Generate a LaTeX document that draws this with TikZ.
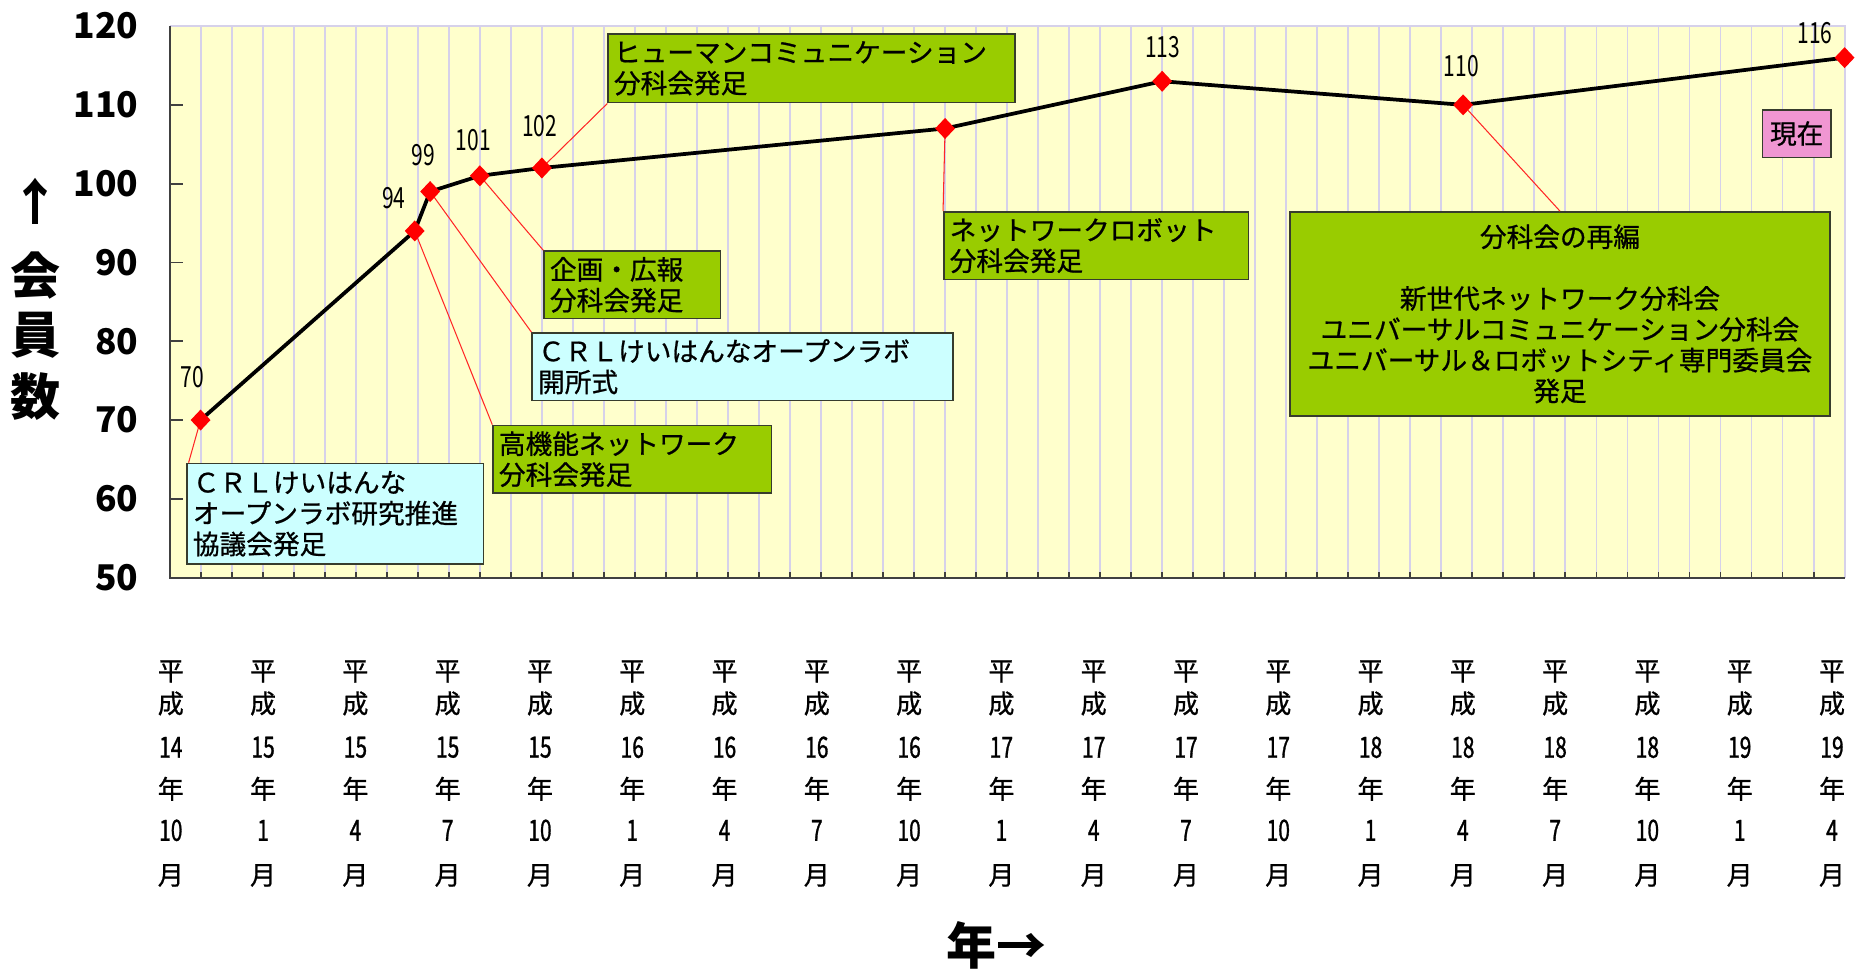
\documentclass[tikz,border=0pt]{standalone}
\usepackage{fontspec}
\setmainfont{Noto Sans CJK JP}
\newfontfamily\numfont[FakeStretch=0.72]{Noto Sans CJK JP}
\newfontfamily\ticknumfont[FakeStretch=0.72,FakeBold=1]{Noto Sans CJK JP}
\newfontfamily\heavyfont[FakeBold=0.8]{Noto Sans CJK JP}
\usetikzlibrary{shapes.geometric}

\definecolor{plotbg}{HTML}{FFFFCC}
\definecolor{gridcol}{RGB}{214,209,234}
\definecolor{leafgreen}{HTML}{99CC00}
\definecolor{paleblue}{HTML}{CCFFFF}
\definecolor{softpink}{RGB}{240,150,210}
\definecolor{boxedge}{RGB}{55,60,45}

\begin{document}
\begin{tikzpicture}[x=0.02cm,y=-0.02cm,
    gridline/.style={draw=gridcol,line width=0.9pt},
    axisline/.style={draw=black!75,line width=0.9pt},
    dataline/.style={draw=black,line width=1.8pt,line join=round},
    marker/.style={diamond,fill=red,inner sep=0pt,minimum width=0.34cm,minimum height=0.36cm},
    leader/.style={draw=red!85,line width=0.5pt},
    evbox/.style={draw=boxedge,line width=0.7pt,anchor=north west,align=left,
        inner xsep=0.1cm,inner ysep=0pt,font=\heavyfont\fontsize{12.8}{14.8}\selectfont},
    greenbox/.style={evbox,fill=leafgreen},
    bluebox/.style={evbox,fill=paleblue},
    vallabel/.style={font=\numfont\fontsize{14}{14}\selectfont,inner sep=0pt},
    ylabel/.style={font=\bfseries\fontsize{17}{17}\selectfont,anchor=east,inner sep=0pt},
    ticktext/.style={font=\heavyfont\fontsize{12.5}{12.5}\selectfont,inner sep=0pt},
    ticknum/.style={font=\ticknumfont\fontsize{14}{14}\selectfont,inner sep=0pt},
    axtitle/.style={font=\bfseries\fontsize{24}{24}\selectfont,inner sep=0pt}]
  \useasboundingbox (0,0) rectangle (1568,818);

  % plot area
  \fill[plotbg] (143,22) rectangle (1555,487);
  \foreach \m in {1,...,53}
    \draw[gridline] ({143+26.148*\m},22) -- ({143+26.148*\m},487);
  \draw[gridline] (143,22) -- (1555,22) -- (1555,487);
  \draw[axisline] (143,22) -- (143,487) -- (1555,487);
  \foreach \m in {1,...,53}
    \draw[axisline] ({143+26.148*\m},487) -- ++(0,-5);
  \foreach \v in {60,70,...,110}
    \draw[axisline] (143,{487-6.643*(\v-50)}) -- ++(11,0);
  \foreach \v in {50,60,...,120}
    \node[ylabel] (y\v) at (117,{487-6.643*(\v-50)}) {\v};

  % data
  \coordinate (p70) at (169.1,354.1);
  \coordinate (p94) at (349.6,194.7);
  \coordinate (p99) at (362.6,161.5);
  \coordinate (p101) at (404.5,148.2);
  \coordinate (p102) at (456.8,141.6);
  \coordinate (p107) at (796.7,108.3);
  \coordinate (p113) at (979.7,68.5);
  \coordinate (p110) at (1233.4,88.4);
  \coordinate (p116) at (1555,48.6);

  % event boxes
  \node[bluebox,text width=4.8cm,minimum height=1.7cm] (crlbox) at (157,390)
    {ＣＲＬけいはんな\\オープンラボ研究推進\\協議会発足};
  \node[greenbox,text width=4.5cm,minimum height=1.14cm] (koukibox) at (415,358)
    {高機能ネットワーク\\分科会発足};
  \node[bluebox,text width=6.9cm,minimum height=1.14cm] (openbox) at (448,280)
    {ＣＲＬけいはんなオープンラボ\\開所式};
  \node[greenbox,text width=2.78cm,minimum height=1.14cm] (kikakubox) at (458,211)
    {企画・広報\\分科会発足};
  \node[greenbox,text width=6.66cm,minimum height=1.16cm] (humanbox) at (512,28)
    {ヒューマンコミュニケーション\\分科会発足};
  \node[greenbox,text width=4.94cm,minimum height=1.14cm] (robotbox) at (795,178)
    {ネットワークロボット\\分科会発足};
  \node[greenbox,text width=8.9cm,minimum height=3.44cm,align=center] (saihenbox) at (1087,178)
    {分科会の再編\\[14.8pt]新世代ネットワーク分科会\\ユニバーサルコミュニケーション分科会\\ユニバーサル＆ロボットシティ専門委員会\\発足};
  \node[evbox,fill=softpink,minimum width=1.16cm,minimum height=0.8cm,align=center,inner xsep=0pt] (genzaibox) at (1485,92)
    {現在};

  % leaders
  \draw[leader] (p70) -- ([xshift=0.04cm]crlbox.north west);
  \draw[leader] (p94) -- (koukibox.north west);
  \draw[leader] (p99) -- (openbox.north west);
  \draw[leader] (p101) -- (kikakubox.north west);
  \draw[leader] (p102) -- (humanbox.south west);
  \draw[leader] (p107) -- (robotbox.north west);
  \draw[leader] (p110) -- (saihenbox.north);

  \draw[dataline] (p70) -- (p94) -- (p99) -- (p101) -- (p102) -- (p107) -- (p113) -- (p110) -- (p116);
  \foreach \n in {70,94,99,101,102,107,113,110,116}
    \node[marker] (m\n) at (p\n) {};

  % values
  \node[vallabel] (v70) at (162,318) {70};
  \node[vallabel] (v94) at (332,167) {94};
  \node[vallabel] (v99) at (357,131) {99};
  \node[vallabel] (v101) at (399,118) {101};
  \node[vallabel] (v102) at (455,106) {102};
  \node[vallabel] (v113) at (980,40) {113};
  \node[vallabel] (v110) at (1232,56) {110};
  \node[vallabel] (v116) at (1530,28) {116};

  % axis titles
  \node[axtitle] (upar) at (30,170) {↑};
  \node[axtitle] (kai) at (30,232) {会};
  \node[axtitle] (in) at (30,283) {員};
  \node[axtitle] (suu) at (30,334) {数};
  \node[axtitle] (nenar) at (840,797) {年→};

  % month labels
  \foreach \yr/\mo [count=\i from 0] in {14/10,15/1,15/4,15/7,15/10,16/1,16/4,16/7,16/10,17/1,17/4,17/7,17/10,18/1,18/4,18/7,18/10,19/1,19/4}{
    \node[ticktext] (hei\i) at ({144+77.8*\i},566) {平};
    \node[ticktext] (sei\i) at ({144+77.8*\i},593) {成};
    \node[ticknum] (yr\i) at ({144+77.8*\i},630) {\yr};
    \node[ticktext] (nen\i) at ({144+77.8*\i},665) {年};
    \node[ticknum] (mo\i) at ({144+77.8*\i},700) {\mo};
    \node[ticktext] (gt\i) at ({144+77.8*\i},738) {月};
  }
\end{tikzpicture}
\end{document}
